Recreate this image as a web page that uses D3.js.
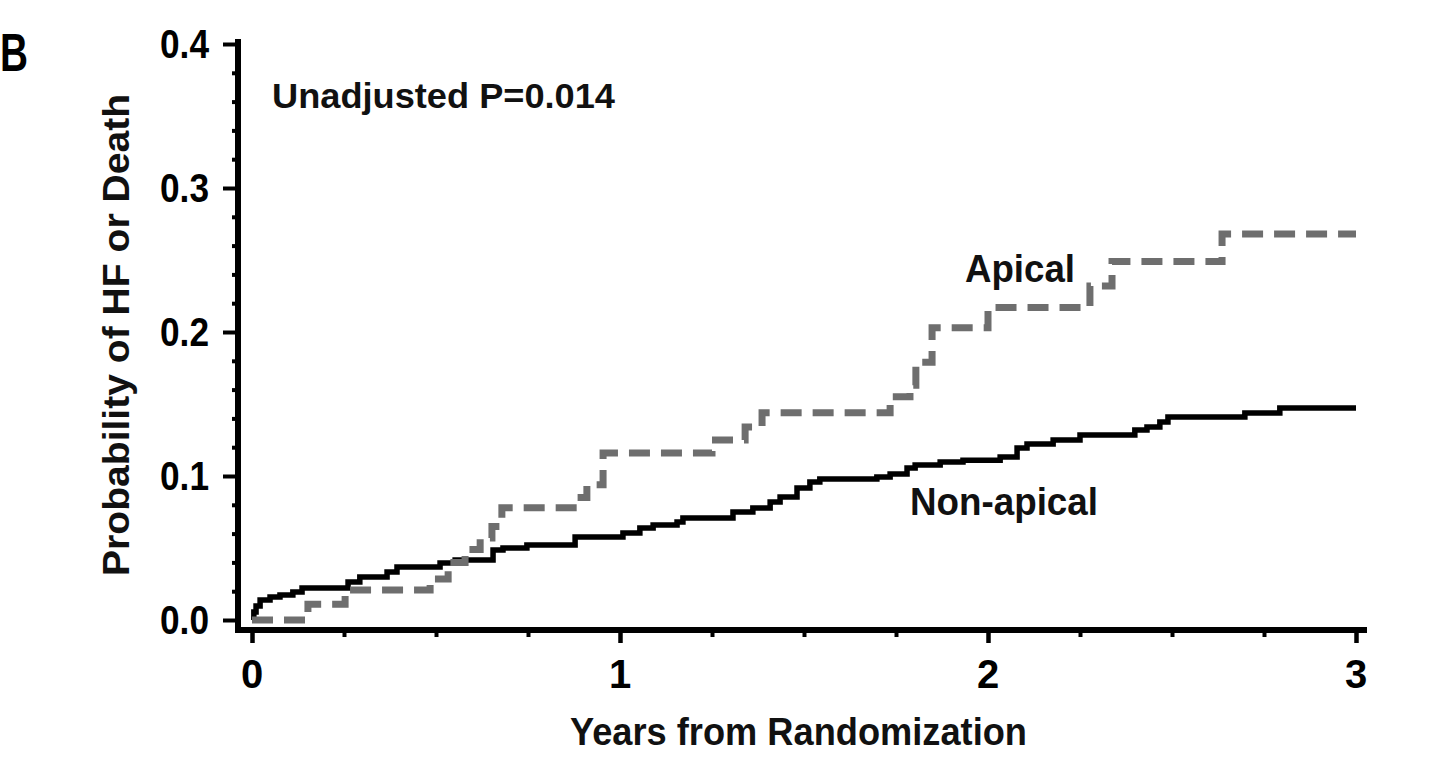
<!DOCTYPE html>
<html><head><meta charset="utf-8">
<script src="https://cdn.jsdelivr.net/npm/d3@7"></script>
<style>body{margin:0;background:#fff;} svg{display:block;}</style>
</head><body><svg id="c" width="1443" height="759"></svg>
<script>
// ---- data ----
const xTickValues = [0, 1, 2, 3];
const xTickLabels = ["0", "1", "2", "3"];
const yTickValues = [0, 0.1, 0.2, 0.3, 0.4];
const yTickLabels = ["0.0", "0.1", "0.2", "0.3", "0.4"];
const seriesNames = ["Non-apical", "Apical"];

const nonApicalT = [0, 0.005, 0.011, 0.022, 0.049, 0.076, 0.111, 0.136, 0.261, 0.293, 0.367, 0.394, 0.511, 0.552, 0.655, 0.682, 0.747, 0.878, 1.008, 1.054, 1.090, 1.155, 1.171, 1.307, 1.361, 1.408, 1.435, 1.481, 1.516, 1.543, 1.698, 1.734, 1.780, 1.802, 1.870, 1.932, 2.033, 2.079, 2.106, 2.177, 2.250, 2.399, 2.432, 2.467, 2.489, 2.698, 2.793, 3.0];
const nonApicalP = [0, 0.0056, 0.0097, 0.0139, 0.016, 0.0174, 0.0194, 0.0222, 0.0264, 0.0299, 0.0333, 0.0368, 0.0396, 0.0417, 0.0486, 0.050, 0.052, 0.0576, 0.0604, 0.0639, 0.066, 0.068, 0.0708, 0.075, 0.0778, 0.082, 0.0854, 0.0917, 0.0958, 0.098, 0.0993, 0.1014, 0.1056, 0.1076, 0.1097, 0.111, 0.1132, 0.1194, 0.1222, 0.125, 0.1285, 0.132, 0.134, 0.1375, 0.141, 0.1438, 0.1472, 0.1472];

const apicalT = [0, 0.152, 0.253, 0.484, 0.533, 0.579, 0.620, 0.652, 0.679, 0.883, 0.910, 0.954, 1.250, 1.340, 1.386, 1.734, 1.788, 1.804, 1.848, 2.000, 2.277, 2.337, 2.636, 3.0];
const apicalP = [0, 0.011, 0.0208, 0.0285, 0.040, 0.049, 0.057, 0.065, 0.078, 0.085, 0.094, 0.116, 0.125, 0.134, 0.144, 0.155, 0.163, 0.179, 0.203, 0.217, 0.232, 0.249, 0.268, 0.268];

// ---- chart ----
const svg = d3.select("#c");
const x = d3.scaleLinear().domain([0, 3]).range([252, 1356]);
const y = d3.scaleLinear().domain([0, 0.4]).range([620, 44]);
const axisYpos = 630, axisXpos = 238;
const tickFont = "'Liberation Sans Narrow','Arial Narrow','Liberation Sans',Arial,sans-serif";
const textFont = "'Liberation Sans',Arial,Helvetica,sans-serif";

const xMinor = d3.range(0, 3.0001, 0.25).filter(v => Math.abs(v - Math.round(v)) > 1e-6);
const yMinor = d3.range(0, 0.4001, 0.02).filter(v => Math.abs(v * 10 - Math.round(v * 10)) > 1e-6);

function styleAxis(g, w) {
  g.select(".domain").remove();
  g.selectAll(".tick line").attr("stroke", "#000").attr("stroke-width", w);
  g.selectAll(".tick text").remove();
}

// x ticks
svg.append("g").attr("transform", `translate(0,${axisYpos})`)
  .call(d3.axisBottom(x).tickValues(xMinor).tickSize(7).tickFormat(""))
  .call(g => styleAxis(g, 4));
svg.append("g").attr("transform", `translate(0,${axisYpos})`)
  .call(d3.axisBottom(x).tickValues(xTickValues).tickSize(13).tickFormat(""))
  .call(g => styleAxis(g, 4.5));
// y ticks
svg.append("g").attr("transform", `translate(${axisXpos},0)`)
  .call(d3.axisLeft(y).tickValues(yMinor).tickSize(6).tickFormat(""))
  .call(g => styleAxis(g, 4));
svg.append("g").attr("transform", `translate(${axisXpos},0)`)
  .call(d3.axisLeft(y).tickValues(yTickValues).tickSize(15).tickFormat(""))
  .call(g => styleAxis(g, 4));

// axis lines
svg.append("line").attr("x1", 235).attr("x2", 1367).attr("y1", axisYpos).attr("y2", axisYpos)
  .attr("stroke", "#000").attr("stroke-width", 6);
svg.append("line").attr("x1", axisXpos).attr("x2", axisXpos).attr("y1", 39).attr("y2", axisYpos + 3)
  .attr("stroke", "#000").attr("stroke-width", 6);

// tick labels
svg.append("g").selectAll("text").data(xTickValues).join("text")
  .attr("x", d => x(d)).attr("y", 688)
  .attr("text-anchor", "middle")
  .attr("font-family", tickFont).attr("font-weight", "bold").attr("font-size", 40)
  .text((d, i) => xTickLabels[i]);
svg.append("g").selectAll("text").data(yTickValues).join("text")
  .attr("x", 209).attr("y", d => y(d) + 14)
  .attr("text-anchor", "end")
  .attr("font-family", tickFont).attr("font-weight", "bold").attr("font-size", 40)
  .attr("textLength", 49).attr("lengthAdjust", "spacingAndGlyphs")
  .text((d, i) => yTickLabels[i]);

// lines
const line = d3.line().curve(d3.curveStepAfter).x(d => x(d[0])).y(d => y(d[1]));
const nonApical = nonApicalT.map((t, i) => [t, nonApicalP[i]]);
const apical = apicalT.map((t, i) => [t, apicalP[i]]);

svg.append("path").datum(nonApical).attr("d", line)
  .attr("fill", "none").attr("stroke", "#000").attr("stroke-width", 5.5)
  .attr("stroke-linejoin", "miter");
svg.append("path").datum(apical).attr("d", line)
  .attr("fill", "none").attr("stroke", "#6e6e6e").attr("stroke-width", 7)
  .attr("stroke-dasharray", "21 11").attr("stroke-linejoin", "miter");

// annotations
function label(txt, xx, yy, size, len, anchor) {
  const t = svg.append("text").attr("x", xx).attr("y", yy)
    .attr("font-family", textFont).attr("font-weight", "bold").attr("font-size", size)
    .attr("fill", "#111").text(txt);
  if (anchor) t.attr("text-anchor", anchor);
  if (len) t.attr("textLength", len).attr("lengthAdjust", "spacingAndGlyphs");
  return t;
}
label("Unadjusted P=0.014", 272, 108, 35, 343);
label(seriesNames[1], 965, 282, 38, 110);
label(seriesNames[0], 910, 515, 38, 188);
label("Years from Randomization", 570, 745, 38, 457);
label("B", 0, 71, 54, 28).attr("fill", "#000");

svg.append("text")
  .attr("transform", "translate(129,335) rotate(-90)")
  .attr("text-anchor", "middle")
  .attr("font-family", textFont).attr("font-weight", "bold").attr("font-size", 37)
  .attr("fill", "#111")
  .attr("textLength", 482).attr("lengthAdjust", "spacingAndGlyphs")
  .text("Probability of HF or Death");
</script>
</body></html>
